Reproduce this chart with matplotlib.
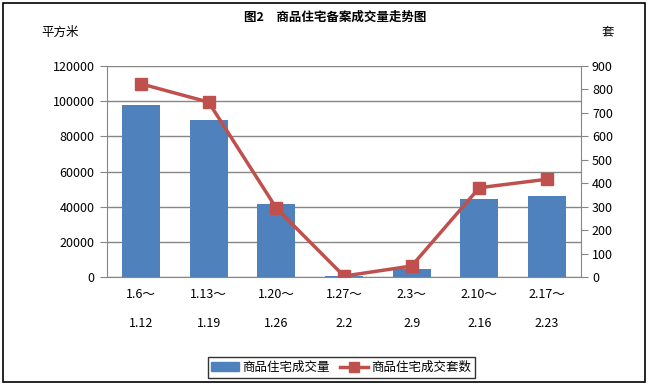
import numpy as np
import matplotlib.pyplot as plt
from matplotlib.patches import Rectangle, Patch
from matplotlib.lines import Line2D

plt.rcParams['font.family'] = ['Noto Sans CJK SC', 'DejaVu Sans']

# 数据
periods = ['1.6～\n1.12', '1.13～\n1.19', '1.20～\n1.26', '1.27～\n2.2',
           '2.3～\n2.9', '2.10～\n2.16', '2.17～\n2.23']
area = [97800, 89300, 41500, 300, 4500, 44400, 46100]  # 平方米
units = [824, 746, 294, 4, 47, 381, 417]  # 套

BAR_C = '#4F81BD'
LINE_C = '#C0504D'
GRID_C = '#868686'

fig = plt.figure(figsize=(6.49, 3.87), dpi=100)
ax = fig.add_axes([0.165, 0.2842, 0.730, 0.5452])
x = np.arange(len(periods))

ax.bar(x, area, width=0.56, color=BAR_C, zorder=2)
ax.set_ylim(0, 120000)
ax.set_yticks(np.arange(0, 120001, 20000))
ax.set_xlim(-0.5, len(periods) - 0.5)
ax.yaxis.grid(True, color=GRID_C, lw=1, zorder=0)
ax.set_xticks(x)
ax.set_xticklabels(periods, fontsize=9)
for lab in ax.get_xticklabels():
    lab.set_linespacing(2.6)
ax.tick_params(axis='x', length=0, pad=8)
ax.tick_params(axis='y', length=5, color=GRID_C, labelsize=9, pad=4)
for s in ['top', 'right']:
    ax.spines[s].set_visible(False)
for s in ['left', 'bottom']:
    ax.spines[s].set_color(GRID_C)

ax2 = ax.twinx()
ax2.plot(x, units, color=LINE_C, lw=2.5, marker='s', ms=8, zorder=3)
ax2.set_ylim(0, 900)
ax2.set_yticks(np.arange(0, 901, 100))
ax2.tick_params(axis='y', length=5, color=GRID_C, labelsize=9, pad=3)
for s in ['top', 'left', 'bottom']:
    ax2.spines[s].set_visible(False)
ax2.spines['right'].set_color(GRID_C)

# 标题与单位
fig.text(0.516, 0.955, '图2　商品住宅备案成交量走势图', ha='center', va='center',
         fontsize=9, fontweight='bold')
fig.text(0.092, 0.917, '平方米', ha='center', va='center', fontsize=9)
fig.text(0.937, 0.917, '套', ha='center', va='center', fontsize=9)

# 图例
handles = [Patch(color=BAR_C), Line2D([], [], color=LINE_C, lw=2.5, marker='s', ms=7)]
leg = fig.legend(handles, ['商品住宅成交量', '商品住宅成交套数'], loc='center',
                 bbox_to_anchor=(0.526, 0.050), ncol=2, fontsize=9, frameon=True,
                 fancybox=False, edgecolor='black', handlelength=2.2,
                 handletextpad=0.3, columnspacing=0.8, borderpad=0.3)
leg.get_frame().set_linewidth(1)

# 外框
fig.patches.append(Rectangle((0.004, 0.013), 0.99, 0.98, transform=fig.transFigure,
                             fill=False, edgecolor='black', lw=1.2))

fig.savefig('out.png', dpi=100)
